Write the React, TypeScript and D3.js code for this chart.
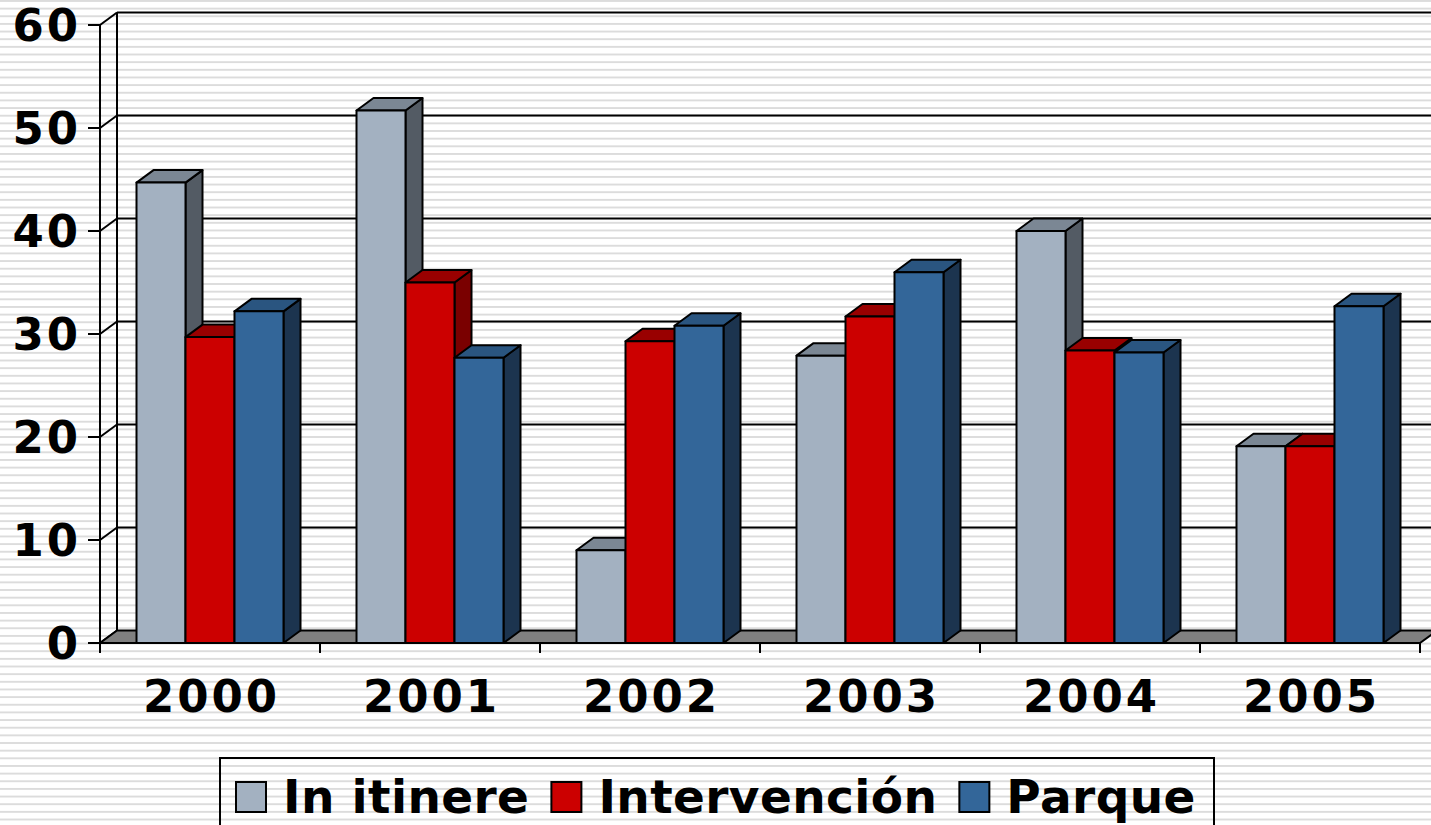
import React, { useEffect, useRef } from 'react';
import * as d3 from 'd3';

const W = 1431;
const H = 825;

const years = ['2000', '2001', '2002', '2003', '2004', '2005'];
const seriesNames = ['In itinere', 'Intervención', 'Parque'];
const inItinere = [44.7, 51.7, 9.0, 27.9, 40.0, 19.1];
const intervencion = [29.7, 35.0, 29.3, 31.7, 28.4, 19.1];
const parque = [32.2, 27.7, 30.8, 36.0, 28.2, 32.7];
const yTicks = [0, 10, 20, 30, 40, 50, 60];

const frontColors = ['#a3b1c1', '#cc0000', '#336699'];
const topColors = ['#7b8794', '#990000', '#2a5580'];
const sideColors = ['#535b64', '#7a0000', '#1c344f'];

const FONT = '"DejaVu Sans", Verdana, sans-serif';
const DX = 17;
const DY = -12.5;

const App = () => {
  const ref = useRef<SVGSVGElement | null>(null);

  useEffect(() => {
    const svg = d3.select(ref.current);
    svg.selectAll('*').remove();

    const seriesValues = [inItinere, intervencion, parque];

    const x = d3.scaleBand<string>().domain(years).range([100, 1420]).padding(0);
    const y = d3.scaleLinear().domain([0, 60]).range([643, 25]);
    const inner = d3
      .scaleBand<string>()
      .domain(seriesNames)
      .range([36.5, x.bandwidth() - 36.5])
      .padding(0);

    // striped background
    const defs = svg.append('defs');
    const pat = defs
      .append('pattern')
      .attr('id', 'stripes')
      .attr('patternUnits', 'userSpaceOnUse')
      .attr('width', 20)
      .attr('height', 7.65);
    pat.append('rect').attr('width', 20).attr('height', 7.65).attr('fill', '#ffffff');
    pat
      .append('rect')
      .attr('y', 0)
      .attr('width', 20)
      .attr('height', 2)
      .attr('fill', '#dcdcdc')
      .attr('shape-rendering', 'crispEdges');
    svg.append('rect').attr('width', W).attr('height', H).attr('fill', 'url(#stripes)');

    const x0 = x.range()[0];
    const x1 = x.range()[1];
    const y0 = y(0);

    // walls: back gridlines + side wall
    const walls = svg.append('g').attr('stroke', '#000').attr('stroke-width', 2).attr('fill', 'none');
    walls
      .append('line')
      .attr('x1', x0 + DX)
      .attr('x2', x0 + DX)
      .attr('y1', y(60) + DY)
      .attr('y2', y0 + DY);
    yTicks.forEach(t => {
      walls
        .append('line')
        .attr('x1', x0)
        .attr('y1', y(t))
        .attr('x2', x0 + DX)
        .attr('y2', y(t) + DY);
      if (t > 0) {
        walls
          .append('line')
          .attr('x1', x0 + DX)
          .attr('x2', W + 5)
          .attr('y1', y(t) + DY)
          .attr('y2', y(t) + DY);
      }
    });

    // floor
    svg
      .append('polygon')
      .attr(
        'points',
        [
          [x0, y0],
          [x1, y0],
          [x1 + DX, y0 + DY],
          [x0 + DX, y0 + DY]
        ].join(' ')
      )
      .attr('fill', '#808080')
      .attr('stroke', '#000')
      .attr('stroke-width', 2)
      .attr('stroke-linejoin', 'round');

    // bars
    const bars = svg.append('g').attr('stroke', '#000').attr('stroke-width', 2).attr('stroke-linejoin', 'round');
    years.forEach((yr, i) => {
      seriesNames.forEach((s, k) => {
        const v = seriesValues[k][i];
        const bx = (x(yr) as number) + (inner(s) as number);
        const bw = inner.bandwidth();
        const top = y(v);
        // side
        bars
          .append('polygon')
          .attr('points', [[bx + bw, y0], [bx + bw, top], [bx + bw + DX, top + DY], [bx + bw + DX, y0 + DY]].join(' '))
          .attr('fill', sideColors[k]);
        // top
        bars
          .append('polygon')
          .attr('points', [[bx, top], [bx + bw, top], [bx + bw + DX, top + DY], [bx + DX, top + DY]].join(' '))
          .attr('fill', topColors[k]);
        // front
        bars
          .append('rect')
          .attr('x', bx)
          .attr('y', top)
          .attr('width', bw)
          .attr('height', y0 - top)
          .attr('fill', frontColors[k]);
      });
    });

    // axes
    const axes = svg.append('g').attr('stroke', '#000').attr('stroke-width', 2);
    axes.append('line').attr('x1', x0).attr('x2', x0).attr('y1', y(60)).attr('y2', y0 + 10);
    axes.append('line').attr('x1', x0).attr('x2', x1).attr('y1', y0).attr('y2', y0);
    yTicks.forEach(t => {
      axes.append('line').attr('x1', x0 - 12).attr('x2', x0).attr('y1', y(t)).attr('y2', y(t));
    });
    years.forEach(yr => {
      const xx = (x(yr) as number) + x.bandwidth();
      axes.append('line').attr('x1', xx).attr('x2', xx).attr('y1', y0).attr('y2', y0 + 10);
    });

    svg
      .append('g')
      .selectAll('text')
      .data(yTicks)
      .enter()
      .append('text')
      .attr('x', 78 + 3)
      .attr('y', d => y(d))
      .attr('dy', '0.36em')
      .attr('text-anchor', 'end')
      .attr('font-family', FONT)
      .attr('font-weight', 'bold')
      .attr('font-size', 45)
      .attr('letter-spacing', 3)
      .text(d => d);

    svg
      .append('g')
      .selectAll('text')
      .data(years)
      .enter()
      .append('text')
      .attr('x', d => (x(d) as number) + x.bandwidth() / 2 + 1.5)
      .attr('y', 712)
      .attr('text-anchor', 'middle')
      .attr('font-family', FONT)
      .attr('font-weight', 'bold')
      .attr('font-size', 45)
      .attr('letter-spacing', 3)
      .text(d => d);

    // legend
    const legend = svg.append('g');
    legend
      .append('rect')
      .attr('x', 220)
      .attr('y', 758)
      .attr('width', 994)
      .attr('height', 90)
      .attr('fill', 'none')
      .attr('stroke', '#000')
      .attr('stroke-width', 2);
    let lx = 236;
    seriesNames.forEach((s, k) => {
      legend
        .append('rect')
        .attr('x', lx)
        .attr('y', 782)
        .attr('width', 30)
        .attr('height', 30)
        .attr('fill', frontColors[k])
        .attr('stroke', '#000')
        .attr('stroke-width', 2);
      const txt = legend
        .append('text')
        .attr('x', lx + 47)
        .attr('y', 813)
        .attr('font-family', FONT)
        .attr('font-weight', 'bold')
        .attr('font-size', 47)
        .attr('letter-spacing', 0.4)
        .text(s);
      const node = txt.node() as SVGTextElement;
      const len = node.getComputedTextLength();
      lx = lx + 47 + len + 22;
    });
  }, []);

  return (
    <svg
      ref={ref}
      width={W}
      height={H}
      style={{ position: 'absolute', left: 0, top: 0, display: 'block' }}
    />
  );
};

export default App;
